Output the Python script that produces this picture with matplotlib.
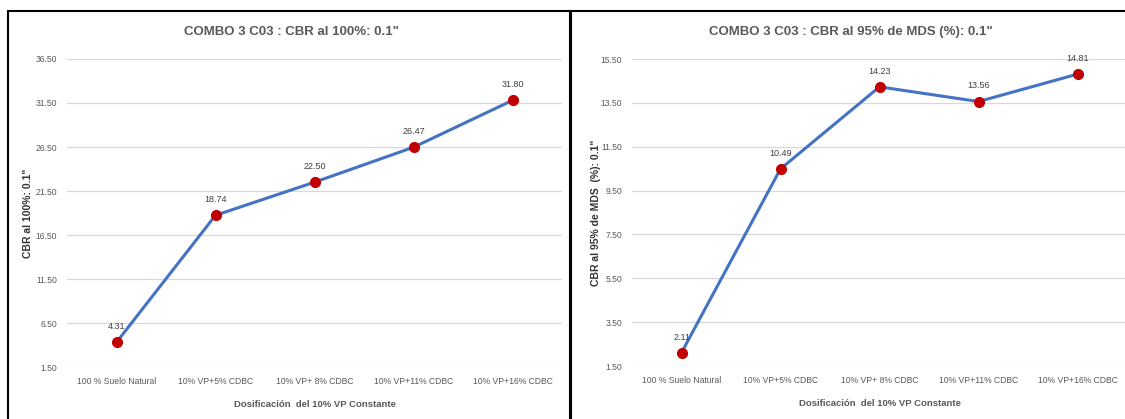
import matplotlib
matplotlib.use("Agg")
import matplotlib.pyplot as plt
from matplotlib.patches import Rectangle

plt.rcParams['font.family'] = ['Liberation Sans', 'DejaVu Sans']

categories = ["100 % Suelo Natural", "10% VP+5% CDBC", "10% VP+ 8% CDBC",
              "10% VP+11% CDBC", "10% VP+16% CDBC"]
cbr_100 = [4.31, 18.74, 22.50, 26.47, 31.80]
cbr_95 = [2.11, 10.49, 14.23, 13.56, 14.81]
ticks_100 = [1.5, 6.5, 11.5, 16.5, 21.5, 26.5, 31.5, 36.5]
ticks_95 = [1.5, 3.5, 5.5, 7.5, 9.5, 11.5, 13.5, 15.5]

W, H = 1125, 419
fig = plt.figure(figsize=(W / 100, H / 100), dpi=100)

# panel frames
fig.patches.append(Rectangle((8 / W, -0.05), (570 - 8) / W, 1.05 - 11 / H,
                             transform=fig.transFigure, fill=False,
                             edgecolor="black", linewidth=1.5))
fig.patches.append(Rectangle((571 / W, -0.05), 0.6, 1.05 - 11 / H,
                             transform=fig.transFigure, fill=False,
                             edgecolor="black", linewidth=1.5))


def panel(rect, values, ticks, title, ylabel, title_x, ylab_pad):
    ax = fig.add_axes(rect)
    x = list(range(len(categories)))
    ax.plot(x, values, color="#4472C4", linewidth=2.2, marker="o",
            markersize=7, markerfacecolor="#C00000", markeredgecolor="#C00000",
            zorder=3)
    for xi, v in zip(x, values):
        ax.annotate(f"{v:.2f}", (xi, v), xytext=(0, 8), textcoords="offset points",
                    ha="center", va="bottom", fontsize=6.5, color="#404040")
    ax.set_xlim(-0.5, len(categories) - 0.5)
    ax.set_ylim(ticks[0], ticks[-1])
    ax.set_yticks(ticks)
    ax.set_yticklabels([f"{t:.2f}" for t in ticks])
    ax.set_xticks(x)
    ax.set_xticklabels(categories)
    ax.tick_params(axis="both", length=0, labelsize=6.2, labelcolor="#595959")
    ax.tick_params(axis="y", pad=7)
    ax.tick_params(axis="x", pad=7)
    ax.grid(axis="y", color="#d9d9d9", linewidth=0.9)
    ax.set_axisbelow(True)
    for s in ax.spines.values():
        s.set_visible(False)
    ax.set_xlabel("Dosificación  del 10% VP Constante", fontsize=6.8,
                  fontweight="bold", color="#595959", labelpad=10)
    ax.set_ylabel(ylabel, fontsize=7.5, fontweight="bold", color="#333333",
                  labelpad=ylab_pad)
    fig.text(title_x, 1 - 32 / H, title, ha="center", va="center",
             fontsize=9.5, fontweight="bold", color="#595959")
    return ax


panel([67 / W, 1 - 367 / H, 495 / W, 308 / H], cbr_100, ticks_100,
      'COMBO 3 C03 : CBR al 100%: 0.1"', 'CBR al 100%: 0.1"', 291 / W, 2)
panel([632 / W, 1 - 366 / H, 495 / W, 307 / H], cbr_95, ticks_95,
      'COMBO 3 C03 : CBR al 95% de MDS (%): 0.1"', 'CBR al 95% de MDS  (%): 0.1"',
      851 / W, 0)

fig.savefig("out.png", dpi=100)
